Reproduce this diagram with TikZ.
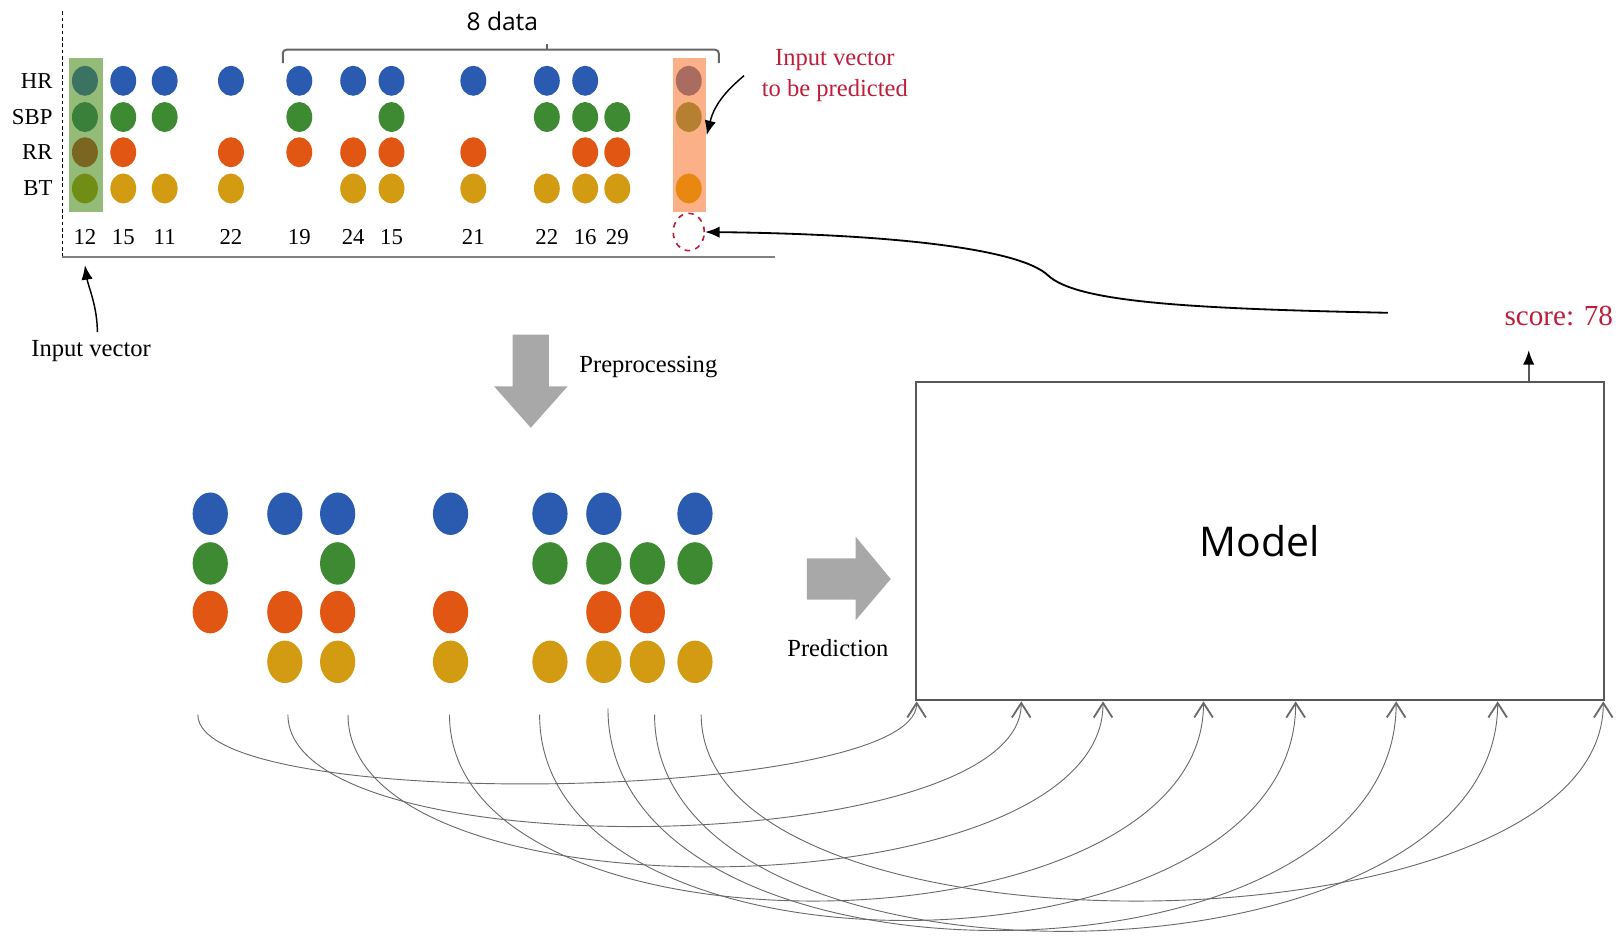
\documentclass[tikz,border=0pt]{standalone}
\usepackage{fontspec}
\setmainfont{Liberation Serif}
\newfontfamily\modelfont{Open Sans}
\usepackage{tikz}
\usetikzlibrary{arrows.meta, positioning, calc, shapes.geometric}

\definecolor{HRBlue}{RGB}{42,91,176}
\definecolor{SBPGreen}{RGB}{62,138,50}
\definecolor{RROrange}{RGB}{224,86,18}
\definecolor{BTGold}{RGB}{210,155,18}
\definecolor{ColGreen}{RGB}{148,188,120}
\definecolor{ColOrange}{RGB}{252,176,136}
\definecolor{InHR}{RGB}{60,114,98}
\definecolor{InSBP}{RGB}{58,128,58}
\definecolor{InRR}{RGB}{122,102,32}
\definecolor{InBT}{RGB}{112,142,22}
\definecolor{OutHR}{RGB}{170,108,96}
\definecolor{OutSBP}{RGB}{182,128,48}
\definecolor{OutBT}{RGB}{232,136,16}
\definecolor{LabelRed}{RGB}{190,30,60}
\definecolor{ArrowGray}{RGB}{168,168,168}
\definecolor{BoxGray}{RGB}{88,88,88}
\definecolor{CurveGray}{RGB}{105,105,105}

\begin{document}
\begin{tikzpicture}[x=0.2mm, y=-0.2mm,
	lbl/.style={font=\fontsize{13.5}{17.4}\selectfont, inner sep=1pt},
	rowlbl/.style={font=\fontsize{12.5}{15}\selectfont, anchor=east, inner sep=0pt},
	numlbl/.style={font=\fontsize{12.5}{15}\selectfont, inner sep=1pt},
	redlbl/.style={lbl, text=LabelRed, align=center},
	dot/.style={x radius=2.5mm, y radius=2.9mm},
	bigdot/.style={x radius=3.4mm, y radius=4.1mm},
	link/.style={draw=CurveGray, line width=0.5pt,
		-{Straight Barb[length=2.8mm,width=3.6mm,line width=1pt]}},
	pointer/.style={draw=black, line width=0.8pt, -{Latex[length=2.8mm,width=2.2mm]}},
	modelbox/.style={draw=BoxGray, line width=1.3pt, minimum width=132.8mm,
		minimum height=61.4mm, font=\modelfont\fontsize{22.5}{26}\selectfont}]
	\useasboundingbox (0,0) rectangle (1568,903);
	% raw series
	\draw[line width=0.6pt, dash pattern=on 2pt off 1.5pt] (60,11) -- (60,248);
	\draw[draw=gray, line width=0.9pt] (60,248) -- (748,248);
	\foreach \name/\y in {HR/78, SBP/113, RR/147, BT/182}
		\node[rowlbl] (lbl\name) at (51,\y) {\name};
	\node[fill=ColGreen, minimum width=6.4mm, minimum height=29.8mm, inner sep=0] (incol) at (83,130.5) {};
	\node[fill=ColOrange, minimum width=6.4mm, minimum height=29.8mm, inner sep=0] (predcol) at (666,130.5) {};
	\foreach \c/\y in {InHR/78, InSBP/113, InRR/147, InBT/182}
		\fill[\c] (82,\y) ellipse [dot];
	\foreach \c/\y in {OutHR/78, OutSBP/113, OutBT/182}
		\fill[\c] (665,\y) ellipse [dot];
	\foreach \x in {119,159,223,289,341,378,457,528,565}
		\fill[HRBlue] (\x,78) ellipse [dot];
	\foreach \x in {119,159,289,378,528,565,596}
		\fill[SBPGreen] (\x,113) ellipse [dot];
	\foreach \x in {119,223,289,341,378,457,565,596}
		\fill[RROrange] (\x,147) ellipse [dot];
	\foreach \x in {119,159,223,341,378,457,528,565,596}
		\fill[BTGold] (\x,182) ellipse [dot];
	\foreach \x/\v [count=\i] in {82/12, 119/15, 159/11, 223/22, 289/19, 341/24,
		378/15, 457/21, 528/22, 565/16, 596/29}
		\node[numlbl] (num\i) at (\x,229) {\v};
	\node[draw=LabelRed, dashed, ellipse, line width=0.9pt, minimum width=6mm,
		minimum height=7.2mm, inner sep=0] (pred) at (665,224) {};
	% window of 8 values
	\draw[draw=gray!80!black, line width=1.1pt, rounded corners=2pt] (273,61) |- (694,48) -- (694,61);
	\draw[draw=gray!80!black, line width=1.1pt] (528,48) -- (528,42);
	\node[font=\modelfont\fontsize{13.5}{16}\selectfont] (window) at (485,21) {8 data};
	% labels of the raw series
	\node[redlbl] (predlbl) at (806,73) {Input vector\\to be predicted};
	\draw[pointer] ([xshift=-3mm]predlbl.west) .. controls +(-14,12) and +(8,-32) .. (predcol.east);
	\node[lbl] (invec) at (88,339) {Input vector};
	\coordinate (invtip) at (82,256);
	\draw[pointer] ([xshift=1.2mm, yshift=1.2mm]invec.north) .. controls +(0,-25) and +(3,20) .. (invtip);
	% preprocessing
	\fill[ArrowGray] (495,323) -- (530,323) -- (530,373) -- (548,373) -- (512.5,413)
		-- (477,373) -- (495,373) -- cycle;
	\node[lbl] (prep) at (626,354) {Preprocessing};
	% preprocessed series
	\foreach \x in {203,275,326,435,531,583,671}
		\fill[HRBlue] (\x,496) ellipse [bigdot];
	\foreach \x in {203,326,531,583,625,671}
		\fill[SBPGreen] (\x,544) ellipse [bigdot];
	\foreach \x in {203,275,326,435,583,625}
		\fill[RROrange] (\x,591) ellipse [bigdot];
	\foreach \x in {275,326,435,531,583,625,671}
		\fill[BTGold] (\x,639) ellipse [bigdot];
	% prediction
	\fill[ArrowGray] (779,539) -- (826,539) -- (826,518) -- (860,559) -- (826,599)
		-- (826,579) -- (779,579) -- cycle;
	\node[lbl] (predict) at (809,626) {Prediction};
	\node[modelbox] (model) at (1216.5,522.5) {Model};
	\node[redlbl, font=\fontsize{16}{19}\selectfont] (score) at (1505,305) {score: 78};
	\coordinate (sctip) at (1476,338);
	\draw[draw=BoxGray, line width=1pt, -{Latex[length=2.8mm,width=2.2mm,black]}] (sctip |- model.north) -- (sctip);
	% feedback to the predicted vector
	\coordinate (fb) at (1340,302);
	\draw[pointer, line width=1pt] (fb) .. controls (1150,298) and (1040,292) .. (1012,266)
		.. controls (985,240) and (860,226) .. (pred.east);
	% inputs of the model
	\foreach \sx/\sy/\ex/\d [count=\i] in {191/690/885/97, 278/690/986/152,
		336/690/1065/204, 434/690/1162/248, 521/690/1251/273, 587/684/1348/290,
		632/690/1446/287, 677/690/1548/248}
	{
		\coordinate (s\i) at (\sx,\sy);
		\coordinate (e\i) at (\ex,0 |- model.south);
		\draw[link] (s\i) .. controls +(0,\d) and +(0,\d) .. (e\i);
	}
\end{tikzpicture}
\end{document}
